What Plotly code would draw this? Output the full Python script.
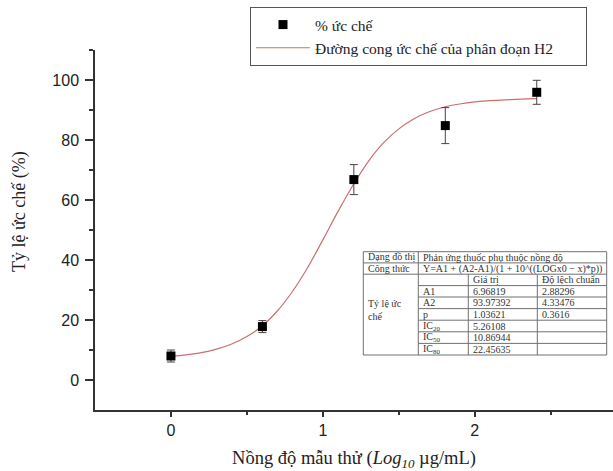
import plotly.graph_objects as go

# ---- data ----
x_log = [0.0, 0.602, 1.204, 1.806, 2.408]
inhibition = [8.0, 17.8, 66.8, 84.8, 95.9]
inhibition_err = [2.0, 2.0, 5.0, 6.0, 4.0]

curve_x = [0.0, 0.1, 0.2, 0.3, 0.4, 0.5, 0.6, 0.7, 0.8, 0.9, 1.0, 1.1, 1.2,
           1.3, 1.4, 1.5, 1.6, 1.7, 1.8, 1.9, 2.0, 2.1, 2.2, 2.3, 2.408]
curve_y = [7.9, 8.4, 9.1, 10.3, 12.0, 14.5, 18.0, 23.0, 29.5, 37.5, 46.7, 56.2, 65.1,
           72.9, 79.1, 83.7, 87.1, 89.4, 91.0, 92.0, 92.7, 93.1, 93.4, 93.6, 93.8]

x_ticks = [0, 1, 2]
y_ticks = [0, 20, 40, 60, 80, 100]

table_rows = [
    ["Dạng đồ thị", "Phản ứng thuốc phụ thuộc nồng độ", None, None],
    ["Công thức", "Y=A1 + (A2-A1)/(1 + 10^((LOGx0 − x)*p))", None, None],
    ["", "", "Giá trị", "Độ lệch chuẩn"],
    ["", "A1", "6.96819", "2.88296"],
    ["", "A2", "93.97392", "4.33476"],
    ["", "p", "1.03621", "0.3616"],
    ["", "IC<sub>20</sub>", "5.26108", ""],
    ["", "IC<sub>50</sub>", "10.86944", ""],
    ["", "IC<sub>80</sub>", "22.45635", ""],
]
table_group_label = "Tỷ lệ ức<br>chế"

# ---- layout geometry (pixels) ----
W, H = 613, 471
L, R, T, B = 95, 0, 50, 61
PW, PH = W - L - R, H - T - B

def px(xp):
    return (xp - L) / PW

def py(yp):
    return (H - B - yp) / PH

fig = go.Figure()

fig.add_trace(go.Scatter(
    x=curve_x, y=curve_y, mode="lines", line=dict(color="#cc6f6f", width=1.2, shape="spline"),
    name="Đường cong ức chế của phân đoạn H2" + "\u00a0" * 7, legendrank=2))

fig.add_trace(go.Scatter(
    x=x_log, y=inhibition, mode="markers",
    marker=dict(symbol="square", size=9, color="black"),
    error_y=dict(type="data", array=inhibition_err, color="#444444", thickness=1, width=4),
    name="% ức chế", legendrank=1))

# ---- table drawn with shapes ----
col_x = [363.3, 418.3, 468.3, 537.3, 606.7]
row_y = [251.7, 262.9, 274.2, 285.6, 297.0, 308.6, 320.2, 331.8, 343.4, 355.0]
line_c = "#707070"
shapes = []
shapes.append(dict(type="rect", xref="paper", yref="paper",
                   x0=px(col_x[0]), x1=px(col_x[-1]), y0=py(row_y[-1]), y1=py(row_y[0]),
                   line=dict(color=line_c, width=1), fillcolor="white", layer="above"))
for i in range(1, len(row_y) - 1):
    x0 = col_x[0] if i <= 2 else col_x[1]
    shapes.append(dict(type="line", xref="paper", yref="paper",
                       x0=px(x0), x1=px(col_x[-1]), y0=py(row_y[i]), y1=py(row_y[i]),
                       line=dict(color=line_c, width=1), layer="above"))
shapes.append(dict(type="line", xref="paper", yref="paper",
                   x0=px(col_x[1]), x1=px(col_x[1]), y0=py(row_y[-1]), y1=py(row_y[0]),
                   line=dict(color=line_c, width=1), layer="above"))
for c in (2, 3):
    shapes.append(dict(type="line", xref="paper", yref="paper",
                       x0=px(col_x[c]), x1=px(col_x[c]), y0=py(row_y[-1]), y1=py(row_y[2]),
                       line=dict(color=line_c, width=1), layer="above"))

annotations = []
tfont = dict(family="Liberation Serif, Times New Roman, serif", size=10, color="#333333")
for r, row in enumerate(table_rows):
    yc = (row_y[r] + row_y[r + 1]) / 2
    for c, txt in enumerate(row):
        if not txt:
            continue
        annotations.append(dict(xref="paper", yref="paper", x=px(col_x[c] + 3), y=py(yc),
                                text=txt, showarrow=False, xanchor="left", yanchor="middle",
                                font=tfont))
annotations.append(dict(xref="paper", yref="paper", x=px(col_x[0] + 3), y=py(310),
                        text=table_group_label, showarrow=False, xanchor="left", yanchor="middle",
                        align="left", font=tfont))
# y-axis title (placed like the reference, slightly above the axis middle)
annotations.append(dict(xref="paper", yref="paper", x=px(20), y=py(212), textangle=-90,
                        text="Tỷ lệ ức chế (%)", showarrow=False, xanchor="center", yanchor="middle",
                        font=dict(family="Liberation Serif, Times New Roman, serif", size=18, color="#222")))

fig.update_layout(
    width=W, height=H,
    margin=dict(l=L, r=R, t=T, b=B, autoexpand=False),
    paper_bgcolor="white", plot_bgcolor="white",
    shapes=shapes, annotations=annotations,
    showlegend=True,
    legend=dict(x=px(250), y=py(7), xanchor="left", yanchor="top",
                bordercolor="#555555", borderwidth=1, bgcolor="white",
                font=dict(family="Liberation Serif, Times New Roman, serif", size=15.5, color="#222"),
                itemwidth=54, tracegroupgap=0, traceorder="normal"),
    xaxis=dict(range=[-0.5, 2.91], tickvals=x_ticks, ticktext=[str(v) for v in x_ticks],
               showline=True, linecolor="#333", linewidth=1.5, showgrid=False, zeroline=False,
               ticks="outside", ticklen=5, tickwidth=1.5, tickcolor="#333", automargin=False,
               minor=dict(tickvals=[0.5, 1.5, 2.5], ticks="outside", ticklen=3, tickwidth=1.5, tickcolor="#333"),
               tickfont=dict(family="Liberation Sans, Arial, sans-serif", size=16, color="#222"),
               title=dict(text="Nồng độ mẫu thử (<i>Log<sub>10</sub></i> µg/mL)",
                          font=dict(family="Liberation Serif, Times New Roman, serif", size=18.5, color="#222"))),
    yaxis=dict(range=[-10, 110], tickvals=y_ticks, ticktext=[str(v) for v in y_ticks],
               showline=True, linecolor="#333", linewidth=1.5, showgrid=False, zeroline=False,
               ticks="outside", ticklen=8, tickwidth=1.5, tickcolor="#333", automargin=False,
               ticklabelstandoff=3,
               minor=dict(tickvals=[10, 30, 50, 70, 90, 110], ticks="outside", ticklen=4, tickwidth=1.5, tickcolor="#333"),
               tickfont=dict(family="Liberation Sans, Arial, sans-serif", size=16, color="#222")),
)

fig.write_html("out.html", config={"displayModeBar": False},
               post_script="document.body.style.margin='0';")
